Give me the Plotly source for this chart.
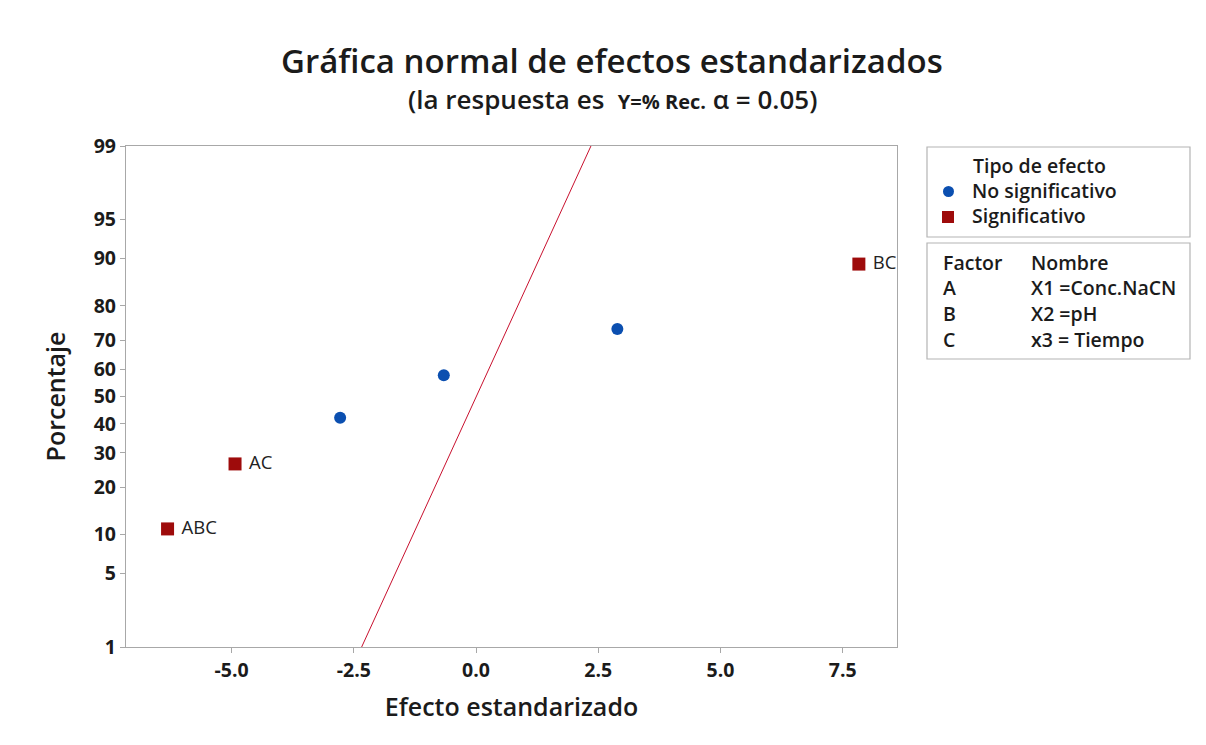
import plotly.graph_objects as go
from statistics import NormalDist

# Standardized effects and their normal-plot percentages
effect_names = ["ABC", "AC", "", "", "", "BC"]
effect_values = [-6.31, -4.93, -2.78, -0.66, 2.89, 7.83]
percent_values = [10.94, 26.56, 42.19, 57.81, 73.44, 89.06]
significant = [True, True, False, False, False, True]

# Reference line (percent vs effect)
line_effect = [-2.34, 2.35]
line_percent = [1, 99]

y_tick_percent = [1, 5, 10, 20, 30, 40, 50, 60, 70, 80, 90, 95, 99]
x_tick_values = [-5.0, -2.5, 0.0, 2.5, 5.0, 7.5]

factor_rows = [("A", "X1 =Conc.NaCN"), ("B", "X2 =pH"), ("C", "x3 = Tiempo")]

nd = NormalDist()


def z(p):
    return nd.inv_cdf(p / 100.0)


FONT = "Open Sans"
TXT = "#1b1b1b"
BLUE = "#0b4fb0"
RED = "#9e0b0b"

W, H = 1206, 745
L, R, T, B = 126, 309, 146, 98
PW, PH = W - L - R, H - T - B


def px(x):
    return (x - L) / PW


def py(y):
    return (H - B - y) / PH


fig = go.Figure()

fig.add_trace(go.Scatter(
    x=line_effect, y=[z(p) for p in line_percent], mode="lines",
    line=dict(color="#c8102e", width=1), hoverinfo="skip", showlegend=False))

sig_x = [x for x, s in zip(effect_values, significant) if s]
sig_y = [z(p) for p, s in zip(percent_values, significant) if s]
sig_t = [n for n, s in zip(effect_names, significant) if s]
ns_x = [x for x, s in zip(effect_values, significant) if not s]
ns_y = [z(p) for p, s in zip(percent_values, significant) if not s]

fig.add_trace(go.Scatter(
    x=ns_x, y=ns_y, mode="markers",
    marker=dict(symbol="circle", size=12, color=BLUE), showlegend=False))
fig.add_trace(go.Scatter(
    x=sig_x, y=sig_y, mode="markers+text", text=[" " + t for t in sig_t],
    textposition="middle right",
    textfont=dict(family=FONT, size=18.5, color="#222222"),
    marker=dict(symbol="square", size=13, color=RED), showlegend=False))

axis_common = dict(
    showgrid=False, zeroline=False, showline=True, linecolor="#a8a8a8",
    linewidth=1.2, mirror=True, ticks="outside", tickcolor="#a8a8a8",
    ticklen=5, tickfont=dict(family=FONT, size=19.5, color=TXT, weight=700))

fig.update_xaxes(
    range=[-7.16, 8.61], tickvals=x_tick_values,
    ticktext=[f"{v:.1f}" for v in x_tick_values],
    title=dict(text="Efecto estandarizado", standoff=16,
               font=dict(family=FONT, size=25, color=TXT, weight=600)),
    **axis_common)
fig.update_yaxes(
    range=[z(1), z(99)], tickvals=[z(p) for p in y_tick_percent],
    ticktext=[str(p) for p in y_tick_percent],
    title=dict(text="Porcentaje", standoff=20,
               font=dict(family=FONT, size=25, color=TXT, weight=600)),
    **axis_common)

shapes = []
annotations = []


def label(x, y, text, size=19.5, weight=600, anchor="left"):
    annotations.append(dict(
        x=px(x), y=py(y), xref="paper", yref="paper", xanchor=anchor,
        yanchor="middle", showarrow=False, text=text,
        font=dict(family=FONT, size=size, color=TXT, weight=weight)))


# Titles
label(612, 61, "Gráfica normal de efectos estandarizados", size=33, anchor="center")
label(612, 99,
      "(la respuesta es  <span style='font-size:20px;font-weight:700'>Y=% Rec.</span> α = 0.05)",
      size=26, anchor="center")

# Legend box 1: effect type
shapes.append(dict(type="rect", xref="paper", yref="paper",
                   x0=px(927), x1=px(1190), y0=py(237), y1=py(147),
                   line=dict(color="#b4b4b4", width=1.2), fillcolor="white"))
label(971, 165, "Tipo de efecto")
label(970, 190, "No significativo")
label(970, 215, "Significativo")
shapes.append(dict(type="circle", xref="paper", yref="paper",
                   x0=px(943), x1=px(954), y0=py(197), y1=py(186),
                   line=dict(width=0), fillcolor=BLUE))
shapes.append(dict(type="rect", xref="paper", yref="paper",
                   x0=px(942), x1=px(954), y0=py(223), y1=py(211),
                   line=dict(width=0), fillcolor=RED))

# Legend box 2: factor names
shapes.append(dict(type="rect", xref="paper", yref="paper",
                   x0=px(927), x1=px(1190), y0=py(359), y1=py(243),
                   line=dict(color="#b4b4b4", width=1.2), fillcolor="white"))
label(941, 262, "Factor")
label(1029, 262, "Nombre")
for i, (f, name) in enumerate(factor_rows):
    yy = 287 + i * 26
    label(941, yy, f)
    label(1029, yy, name)

fig.update_layout(
    width=W, height=H,
    margin=dict(l=L, r=R, t=T, b=B),
    paper_bgcolor="white", plot_bgcolor="white",
    shapes=shapes, annotations=annotations,
    font=dict(family=FONT, color=TXT))

fig.write_html("out.html")
